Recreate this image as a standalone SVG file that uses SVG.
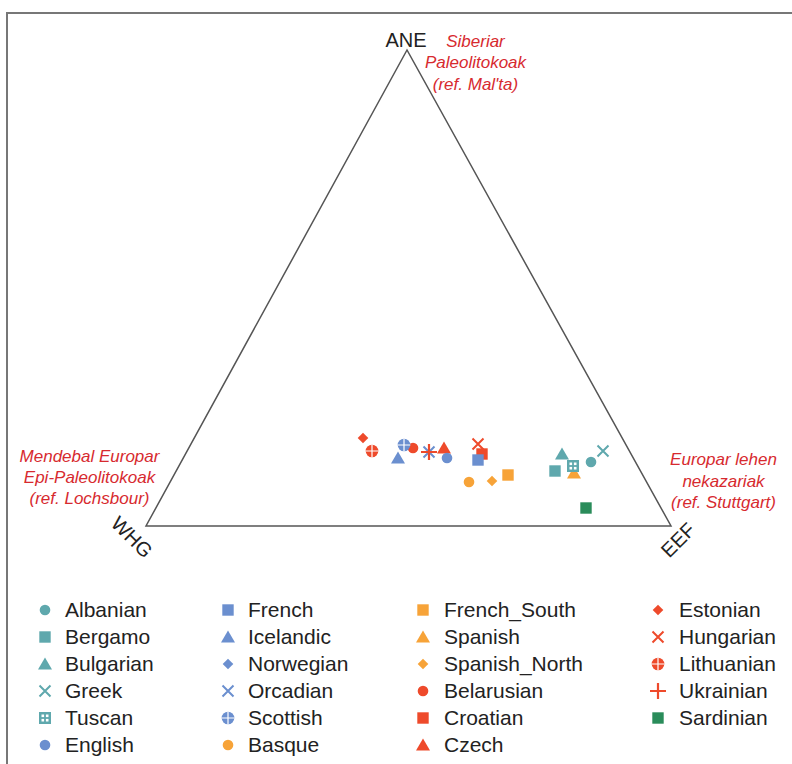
<svg xmlns="http://www.w3.org/2000/svg" xmlns:xlink="http://www.w3.org/1999/xlink" width="792" height="764" viewBox="0 0 792 764">
<style>
.frame{fill:none;stroke:#777;stroke-width:2}
.tri{fill:none;stroke:#555;stroke-width:1.5;stroke-linejoin:miter}
.axis{font-family:"Liberation Sans",Arial,sans-serif;font-size:20px;fill:#222}
.src{font-family:"Liberation Sans",Arial,sans-serif;font-size:17px;font-style:italic;fill:#d72a2f;text-anchor:middle}
.leg{font-family:"Liberation Sans",Arial,sans-serif;font-size:21px;fill:#222}
.teal{fill:#5fa8ad;stroke:#5fa8ad}
.blue{fill:#6b8fcf;stroke:#6b8fcf}
.orange{fill:#f7a338;stroke:#f7a338}
.red{fill:#ee4a2b;stroke:#ee4a2b}
.green{fill:#2a8c5a;stroke:#2a8c5a}
</style>
<defs>
<g id="m-circle"><circle r="5.3" stroke="none"/></g>
<g id="m-square"><rect x="-5.7" y="-5.7" width="11.4" height="11.4" stroke="none"/></g>
<g id="m-tri"><polygon points="0,-6.5 7,5.5 -7,5.5" stroke="none"/></g>
<g id="m-diamond"><polygon points="0,-5.3 5.3,0 0,5.3 -5.3,0" stroke="none"/></g>
<g id="m-x"><path d="M-5.5,-5.5L5.5,5.5M-5.5,5.5L5.5,-5.5" fill="none" stroke-width="2"/></g>
<g id="m-plus"><path d="M-8,0H8M0,-8V8" fill="none" stroke-width="2.2"/></g>
<g id="m-oplus"><circle r="6.3" stroke="none"/><path d="M-6.3,0H6.3M0,-6.3V6.3" stroke="#fff" stroke-width="1.2" fill="none"/></g>
<g id="m-grid"><rect x="-6" y="-6" width="12" height="12" stroke="none"/><rect x="-3.5" y="-3.5" width="2.6" height="2.6" fill="#fff" stroke="none"/><rect x="0.9" y="-3.5" width="2.6" height="2.6" fill="#fff" stroke="none"/><rect x="-3.5" y="0.9" width="2.6" height="2.6" fill="#fff" stroke="none"/><rect x="0.9" y="0.9" width="2.6" height="2.6" fill="#fff" stroke="none"/></g>
</defs>
<rect width="792" height="764" fill="#fff"/>
<path class="frame" d="M7,764V13H792"/>
<g id="triangle">
<polygon class="tri" points="407,50 146,526 671,526"/>
<text class="axis" x="406" y="47" text-anchor="middle">ANE</text>
<text class="axis" transform="translate(132,537) rotate(45)" x="0" y="7" text-anchor="middle">WHG</text>
<text class="axis" transform="translate(678,540) rotate(-45)" x="0" y="7" text-anchor="middle">EEF</text>
</g>
<g id="sources">
<text class="src" x="475.5" y="46.5">Siberiar</text>
<text class="src" x="475.5" y="68">Paleolitokoak</text>
<text class="src" x="475.5" y="89.5">(ref. Mal'ta)</text>
<text class="src" x="89.5" y="462">Mendebal Europar</text>
<text class="src" x="89.5" y="483">Epi-Paleolitokoak</text>
<text class="src" x="89.5" y="504">(ref. Lochsbour)</text>
<text class="src" x="723.5" y="465">Europar lehen</text>
<text class="src" x="723.5" y="487">nekazariak</text>
<text class="src" x="723.5" y="508">(ref. Stuttgart)</text>
</g>
<g id="points">
<use href="#m-diamond" class="red" x="363" y="438"/>
<use href="#m-oplus" class="red" x="372" y="451"/>
<use href="#m-circle" class="red" x="413" y="448"/>
<use href="#m-oplus" class="blue" x="404" y="445"/>
<use href="#m-tri" class="blue" x="398" y="458"/>
<use href="#m-x" class="blue" x="429" y="452"/>
<use href="#m-plus" class="red" x="429" y="452"/>
<use href="#m-tri" class="red" x="444" y="448"/>
<use href="#m-circle" class="blue" x="447" y="458"/>
<use href="#m-x" class="red" x="478" y="444"/>
<use href="#m-square" class="red" x="482" y="454"/>
<use href="#m-square" class="blue" x="478" y="460"/>
<use href="#m-circle" class="orange" x="469" y="482"/>
<use href="#m-diamond" class="orange" x="492" y="481"/>
<use href="#m-square" class="orange" x="508" y="475"/>
<use href="#m-tri" class="teal" x="562" y="454"/>
<use href="#m-x" class="teal" x="603" y="451"/>
<use href="#m-circle" class="teal" x="591" y="462"/>
<use href="#m-square" class="teal" x="555" y="471"/>
<use href="#m-tri" class="orange" x="574" y="473"/>
<use href="#m-grid" class="teal" x="573" y="466"/>
<use href="#m-square" class="green" x="586" y="508"/>
</g>
<g id="legend">
<use href="#m-circle" class="teal" x="45" y="610"/><text class="leg" x="65" y="617">Albanian</text>
<use href="#m-square" class="teal" x="45" y="637"/><text class="leg" x="65" y="644">Bergamo</text>
<use href="#m-tri" class="teal" x="45" y="664"/><text class="leg" x="65" y="671">Bulgarian</text>
<use href="#m-x" class="teal" x="45" y="691"/><text class="leg" x="65" y="698">Greek</text>
<use href="#m-grid" class="teal" x="45" y="718"/><text class="leg" x="65" y="725">Tuscan</text>
<use href="#m-circle" class="blue" x="45" y="745"/><text class="leg" x="65" y="752">English</text>
<use href="#m-square" class="blue" x="228" y="610"/><text class="leg" x="248" y="617">French</text>
<use href="#m-tri" class="blue" x="228" y="637"/><text class="leg" x="248" y="644">Icelandic</text>
<use href="#m-diamond" class="blue" x="228" y="664"/><text class="leg" x="248" y="671">Norwegian</text>
<use href="#m-x" class="blue" x="228" y="691"/><text class="leg" x="248" y="698">Orcadian</text>
<use href="#m-oplus" class="blue" x="228" y="718"/><text class="leg" x="248" y="725">Scottish</text>
<use href="#m-circle" class="orange" x="228" y="745"/><text class="leg" x="248" y="752">Basque</text>
<use href="#m-square" class="orange" x="423" y="610"/><text class="leg" x="444" y="617">French_South</text>
<use href="#m-tri" class="orange" x="423" y="637"/><text class="leg" x="444" y="644">Spanish</text>
<use href="#m-diamond" class="orange" x="423" y="664"/><text class="leg" x="444" y="671">Spanish_North</text>
<use href="#m-circle" class="red" x="423" y="691"/><text class="leg" x="444" y="698">Belarusian</text>
<use href="#m-square" class="red" x="423" y="718"/><text class="leg" x="444" y="725">Croatian</text>
<use href="#m-tri" class="red" x="423" y="745"/><text class="leg" x="444" y="752">Czech</text>
<use href="#m-diamond" class="red" x="658" y="610"/><text class="leg" x="679" y="617">Estonian</text>
<use href="#m-x" class="red" x="658" y="637"/><text class="leg" x="679" y="644">Hungarian</text>
<use href="#m-oplus" class="red" x="658" y="664"/><text class="leg" x="679" y="671">Lithuanian</text>
<use href="#m-plus" class="red" x="658" y="691"/><text class="leg" x="679" y="698">Ukrainian</text>
<use href="#m-square" class="green" x="658" y="718"/><text class="leg" x="679" y="725">Sardinian</text>
</g>
</svg>
